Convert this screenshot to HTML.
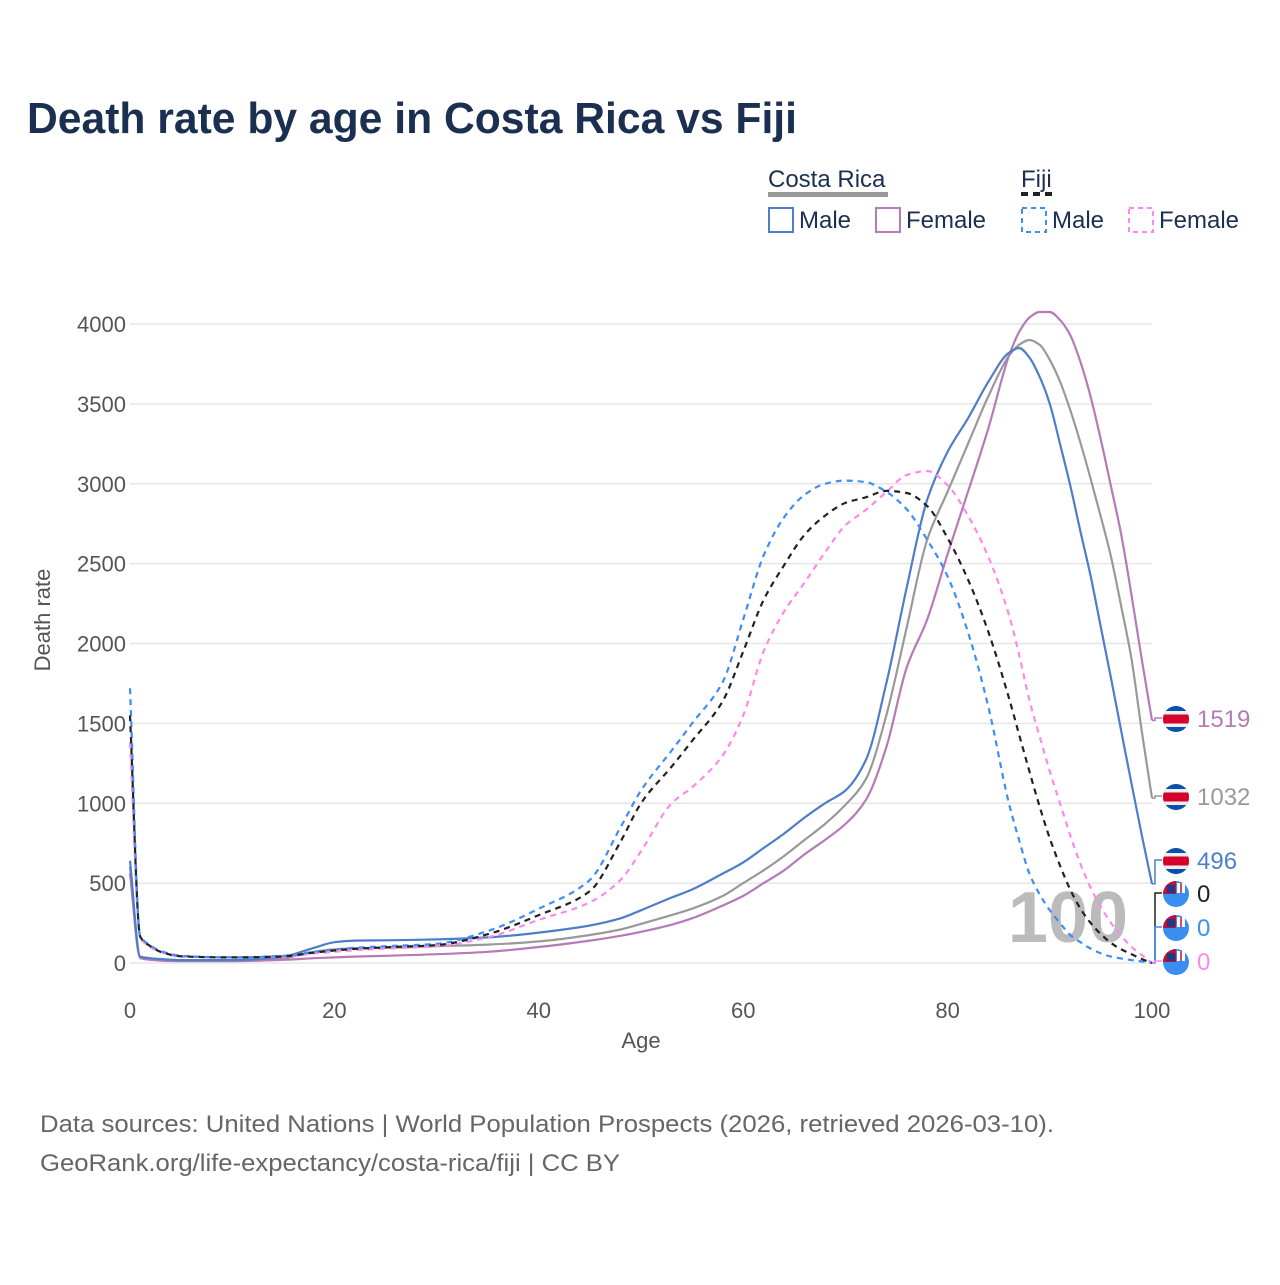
<!DOCTYPE html>
<html><head><meta charset="utf-8"><style>
body{margin:0;background:#fff;}
svg text{font-family:"Liberation Sans",sans-serif;}
</style></head><body>
<svg id="chart" width="1280" height="1280" viewBox="0 0 1280 1280" xmlns="http://www.w3.org/2000/svg">
<rect width="1280" height="1280" fill="#fff"/>
<text x="27" y="133" font-size="44" font-weight="bold" fill="#1b3050" textLength="770" lengthAdjust="spacingAndGlyphs">Death rate by age in Costa Rica vs Fiji</text>
<g>
<text x="768" y="187" font-size="24" fill="#1b3050">Costa Rica</text>
<rect x="768" y="192" width="120" height="5" fill="#999"/>
<text x="1021" y="187" font-size="24" fill="#1b3050">Fiji</text>
<line x1="1021" y1="194" x2="1054" y2="194" stroke="#222" stroke-width="4" stroke-dasharray="7,5"/>
<g><rect x="769" y="208" width="24" height="24" fill="none" stroke="#4f7ec9" stroke-width="2"/><text x="799" y="228" font-size="24" fill="#1b3050">Male</text></g>
<g><rect x="876" y="208" width="24" height="24" fill="none" stroke="#b57ab8" stroke-width="2"/><text x="906" y="228" font-size="24" fill="#1b3050">Female</text></g>
<g><rect x="1022" y="208" width="24" height="24" fill="none" stroke="#3d8ef5" stroke-width="2" stroke-dasharray="5,4"/><text x="1052" y="228" font-size="24" fill="#1b3050">Male</text></g>
<g><rect x="1129" y="208" width="24" height="24" fill="none" stroke="#ff88f0" stroke-width="2" stroke-dasharray="5,4"/><text x="1159" y="228" font-size="24" fill="#1b3050">Female</text></g>
</g>
<g id="grid"></g>
<g id="axes"></g>
<text x="1068" y="942" font-size="72" font-weight="bold" fill="#bbb" text-anchor="middle">100</text>
<g id="series"></g>
<g id="labels"></g>
<text x="641" y="1048" font-size="22" fill="#555" text-anchor="middle">Age</text>
<text transform="translate(50,620) rotate(-90)" font-size="22" fill="#555" text-anchor="middle">Death rate</text>
<text x="40" y="1132" font-size="24" fill="#666" textLength="1014" lengthAdjust="spacingAndGlyphs">Data sources: United Nations | World Population Prospects (2026, retrieved 2026-03-10).</text>
<text x="40" y="1171" font-size="24" fill="#666" textLength="580" lengthAdjust="spacingAndGlyphs">GeoRank.org/life-expectancy/costa-rica/fiji | CC BY</text>
</svg>
<script>
const ages=[0,1,2,3,5,10,15,18,20,22,25,30,35,40,45,48,50,53,55,58,60,62,64,66,68,70,72,74,76,78,80,82,84,86,87,88,89,90,91,92,93,94,95,96,97,98,99,100];
const crMale=[640,40,30,25,18,18,40,95,130,140,142,148,160,190,235,280,330,410,460,560,630,720,810,910,1000,1080,1270,1750,2350,2900,3200,3410,3640,3820,3850,3790,3670,3500,3250,2990,2700,2420,2100,1780,1450,1120,800,496];
const crTotal=[600,35,25,20,15,15,30,70,85,92,95,105,115,135,175,210,245,300,340,420,500,580,670,770,870,990,1150,1550,2100,2650,2950,3250,3550,3800,3870,3900,3870,3775,3640,3462,3255,3030,2792,2540,2230,1900,1450,1032];
const crFemale=[560,30,20,15,12,12,20,30,35,40,45,55,70,100,140,170,195,240,280,360,420,500,580,680,770,870,1020,1350,1850,2150,2560,2950,3350,3800,3950,4040,4075,4075,4025,3931,3762,3543,3274,2980,2680,2300,1900,1519];
const fjMale=[1720,170,110,75,45,35,45,70,85,95,105,120,200,340,520,850,1080,1330,1500,1760,2150,2550,2790,2930,3000,3020,3010,2950,2840,2650,2420,2070,1600,1000,770,560,430,330,250,175,130,90,60,40,28,18,10,0];
const fjTotal=[1550,165,105,70,42,35,42,65,78,88,98,112,180,300,450,760,1000,1230,1390,1640,1950,2272,2490,2680,2800,2880,2915,2955,2942,2860,2660,2400,2070,1660,1430,1200,980,780,610,460,340,250,180,125,85,55,25,0];
const fjFemale=[1380,160,100,68,40,35,40,60,70,80,90,105,160,270,380,520,700,1000,1100,1300,1550,1950,2200,2380,2570,2740,2836,2948,3055,3080,2990,2800,2540,2180,1930,1646,1420,1200,1000,800,620,470,350,250,170,100,50,0];
const yTicks=[0,500,1000,1500,2000,2500,3000,3500,4000];
const xTicks=[0,20,40,60,80,100];
const NS="http://www.w3.org/2000/svg";
const X=a=>130+a*10.22;
const Y=v=>963-v*0.15975;
function mk(tag,attrs,parent){const e=document.createElementNS(NS,tag);for(const k in attrs)e.setAttribute(k,attrs[k]);parent.appendChild(e);return e;}
const grid=document.getElementById('grid'),axes=document.getElementById('axes');
yTicks.forEach(t=>{
  const l=mk('line',{x1:130,x2:1152,y1:Y(t),y2:Y(t),stroke:'#e6e6e6','stroke-width':1.5},grid);
  
  
  const tx=mk('text',{x:126,y:Y(t)+8,'font-size':22,fill:'#555','text-anchor':'end'},axes);
  tx.textContent=t;
  
  
});
xTicks.forEach(t=>{
  const tx=mk('text',{x:X(t),y:1018,'font-size':22,fill:'#555','text-anchor':'middle'},axes);
  tx.textContent=t;
  
  
});
// monotone cubic (Fritsch-Carlson) to avoid overshoot
function monoPath(xs,ys){
  const n=xs.length,dx=[],s=[],m=new Array(n);
  for(let i=0;i<n-1;i++){dx.push(xs[i+1]-xs[i]);s.push((ys[i+1]-ys[i])/dx[i]);}
  m[0]=s[0];m[n-1]=s[n-2];
  for(let i=1;i<n-1;i++){
    if(s[i-1]*s[i]<=0)m[i]=0;
    else{const w1=2*dx[i]+dx[i-1],w2=dx[i]+2*dx[i-1];m[i]=(w1+w2)/(w1/s[i-1]+w2/s[i]);}
  }
  let d='M'+xs[0].toFixed(1)+','+ys[0].toFixed(1);
  for(let i=0;i<n-1;i++){
    const h=dx[i]/3;
    d+=' C'+(xs[i]+h).toFixed(1)+','+(ys[i]+m[i]*h).toFixed(1)+' '+(xs[i+1]-h).toFixed(1)+','+(ys[i+1]-m[i+1]*h).toFixed(1)+' '+xs[i+1].toFixed(1)+','+ys[i+1].toFixed(1);
  }
  return d;
}
const series=[
 {vals:crTotal,color:'#999',dash:'',name:'line-costa-rica-total'},
 {vals:crFemale,color:'#b57ab8',dash:'',name:'line-costa-rica-female'},
 {vals:crMale,color:'#4f7ec9',dash:'',name:'line-costa-rica-male'},
 {vals:fjFemale,color:'#ff88f0',dash:'6,5',name:'line-fiji-female'},
 {vals:fjMale,color:'#3d8ef5',dash:'6,5',name:'line-fiji-male'},
 {vals:fjTotal,color:'#222',dash:'6,5',name:'line-fiji-total'}
];
const sg=document.getElementById('series');
series.forEach(s=>{
  const xs=ages.map(a=>X(a)),ys=s.vals.map(v=>Y(v));
  const p=mk('path',{d:monoPath(xs,ys),fill:'none',stroke:s.color,'stroke-width':2.2,'stroke-dasharray':s.dash,'stroke-linejoin':'round'},sg);
  
  
});
const lg=document.getElementById('labels');
const last=ages.length-1;
const endLabels=[
 {v:crFemale[last],ly:718,color:'#b57ab8',flag:'cr',name:'end-label-cr-female'},
 {v:crTotal[last],ly:796,color:'#999',flag:'cr',name:'end-label-cr-total'},
 {v:crMale[last],ly:860,color:'#4f7ec9',flag:'cr',name:'end-label-cr-male'},
 {v:fjTotal[last],ly:893,color:'#222',flag:'fj',name:'end-label-fiji-total'},
 {v:fjMale[last],ly:927,color:'#3d8ef5',flag:'fj',name:'end-label-fiji-male'},
 {v:fjFemale[last],ly:961,color:'#ff88f0',flag:'fj',name:'end-label-fiji-female'}
];
endLabels.forEach(e=>{
  const g=mk('g',{},lg);
  
  
  const y0=Y(e.v);
  mk('polyline',{points:`1152,${y0} 1155,${y0} 1155,${e.ly} 1162,${e.ly}`,fill:'none',stroke:e.color,'stroke-width':1.5},g);
  const cx=1176,cy=e.ly+1,r=13;
  if(e.flag==='cr'){
    const cid='c'+e.ly;
    const cp=mk('clipPath',{id:cid},g);mk('circle',{cx:cx,cy:cy,r:r},cp);
    const fg=mk('g',{'clip-path':`url(#${cid})`},g);
    mk('rect',{x:cx-r,y:cy-r,width:2*r,height:2*r,fill:'#0a4fa8'},fg);
    mk('rect',{x:cx-r,y:cy-r+5,width:2*r,height:2*r-10,fill:'#eee'},fg);
    mk('rect',{x:cx-r,y:cy-4.5,width:2*r,height:9,fill:'#d6002a'},fg);
  } else {
    const cid='f'+e.ly;
    const cp=mk('clipPath',{id:cid},g);mk('circle',{cx:cx,cy:cy,r:r},cp);
    const fg=mk('g',{'clip-path':`url(#${cid})`},g);
    mk('rect',{x:cx-r,y:cy-r,width:2*r,height:2*r,fill:'#3a8ef0'},fg);
    mk('rect',{x:cx-r,y:cy-r,width:r,height:r,fill:'#c8102e'},fg);
    mk('rect',{x:cx-r+4,y:cy-r+4,width:r-5,height:r-5,fill:'#1b3a8a'},fg);
    mk('rect',{x:cx+1,y:cy-r+2,width:8,height:10,fill:'#fff'},fg);
    mk('line',{x1:cx+5,y1:cy-r+2,x2:cx+5,y2:cy-1,stroke:'#c8102e','stroke-width':1.5},fg);
  }
  const t=mk('text',{x:1197,y:e.ly+9,'font-size':24,fill:e.color},g);
  t.textContent=e.v;
});
</script>
</body></html>
